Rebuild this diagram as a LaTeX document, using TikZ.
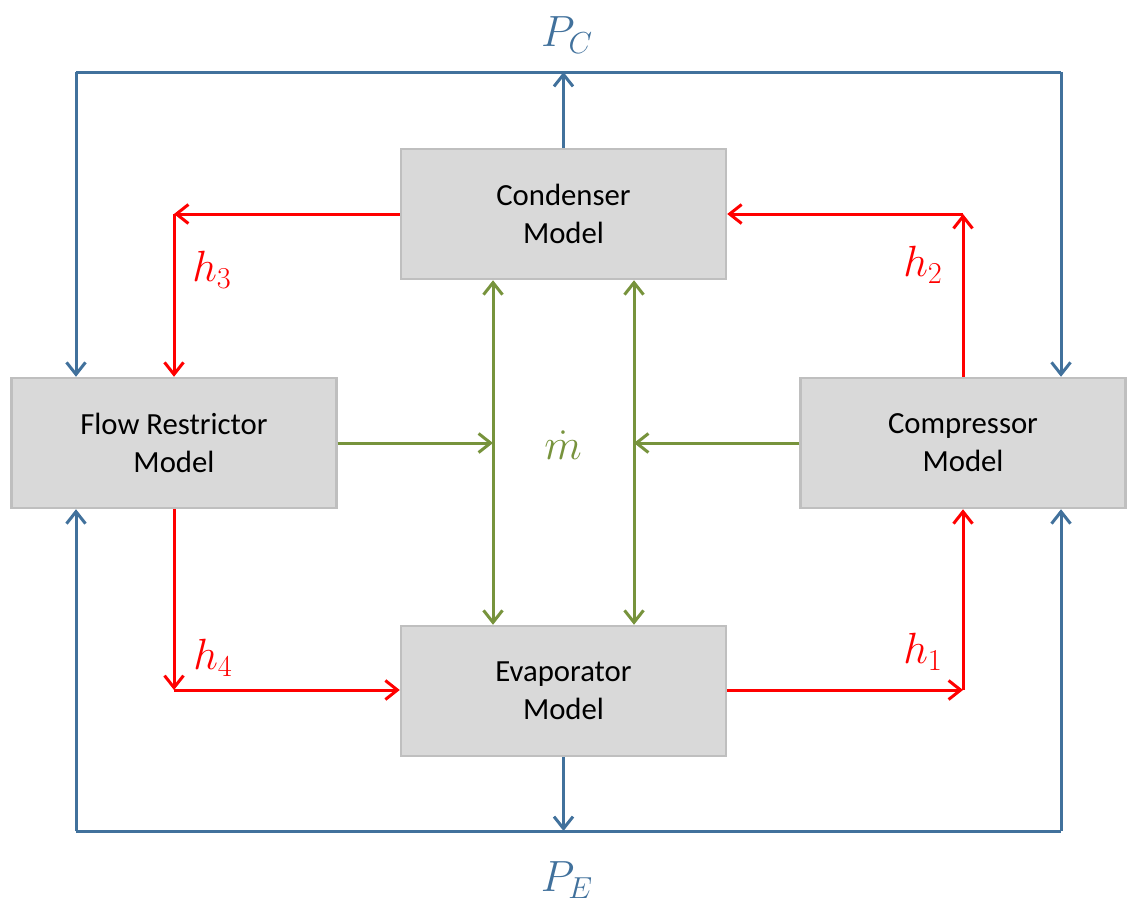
\documentclass[tikz,border=0pt]{standalone}
\usepackage{fontspec}
\setmainfont{Carlito}
\usetikzlibrary{arrows.meta}
\definecolor{pblue}{RGB}{65,113,156}
\definecolor{pred}{RGB}{255,0,0}
\definecolor{pgreen}{RGB}{119,147,60}
\definecolor{boxfill}{RGB}{217,217,217}
\definecolor{boxline}{RGB}{191,191,191}
\begin{document}
\begin{tikzpicture}[x=0.02cm,y=-0.02cm,
  model/.style={draw=boxline,fill=boxfill,line width=0.05cm,minimum width=6.5cm,minimum height=2.6cm,align=center,inner sep=0pt,font=\fontsize{17.5}{21.5}\selectfont},
  tip/.style={-{Straight Barb[length=0.24cm,width=0.38cm]}},
  bline/.style={pblue,line width=0.06cm},
  rline/.style={pred,line width=0.06cm},
  gline/.style={pgreen,line width=0.06cm},
  mlab/.style={font=\fontsize{27}{30}\selectfont,inner sep=0pt}]
\useasboundingbox (0,0) rectangle (1128,903);
\node[model] (cond) at (563.5,214) {Condenser\\Model};
\node[model] (flow) at (174,443) {Flow Restrictor\\Model};
\node[model] (comp) at (963,443) {Compressor\\Model};
\node[model] (evap) at (563.5,691) {Evaporator\\Model};
% corner coordinates
\coordinate (tl) at (76,72);
\coordinate (tr) at (1061,72);
\coordinate (bl) at (76,831);
\coordinate (br) at (1061,831);
\coordinate (tc) at (563.5,72);
\coordinate (bc) at (563.5,831);
\coordinate (r3) at (174,214);
\coordinate (r2) at (963,214);
\coordinate (r4) at (174,690);
\coordinate (r1) at (963,690);
\coordinate (gl) at (493,443);
\coordinate (gr) at (634,443);
% blue
\draw[bline] (tl) -- (tr);
\draw[bline] (bl) -- (br);
\draw[bline,tip] (cond.north) -- (tc);
\draw[bline,tip] (evap.south) -- (bc);
\draw[bline,tip] (tl) -- (tl |- flow.north);
\draw[bline,tip] (tr) -- (tr |- comp.north);
\draw[bline,tip] (bl) -- (bl |- flow.south);
\draw[bline,tip] (br) -- (br |- comp.south);
% red
\draw[rline,tip] (cond.west |- r3) -- (r3);
\draw[rline,tip] (r3) -- (r3 |- flow.north);
\draw[rline,tip] (comp.north) -- (r2);
\draw[rline,tip] (r2) -- (cond.east |- r2);
\draw[rline,tip] (flow.south) -- (r4);
\draw[rline,tip] (r4) -- (evap.west |- r4);
\draw[rline,tip] (evap.east |- r1) -- (r1);
\draw[rline,tip] (r1) -- (comp.south);
% green
\draw[gline,{Straight Barb[length=0.24cm,width=0.38cm]}-{Straight Barb[length=0.24cm,width=0.38cm]}] (gl |- cond.south) -- (gl |- evap.north);
\draw[gline,{Straight Barb[length=0.24cm,width=0.38cm]}-{Straight Barb[length=0.24cm,width=0.38cm]}] (gr |- cond.south) -- (gr |- evap.north);
\draw[gline,tip] (flow.east) -- (gl);
\draw[gline,tip] (comp.west) -- (gr);
% labels
\node[mlab,text=pblue] (pc) at (567,35) {$P_C$};
\node[mlab,text=pblue] (pe) at (567,880) {$P_E$};
\node[mlab,text=pred] (h3) at (212,270) {$h_3$};
\node[mlab,text=pred] (h2) at (923,265) {$h_2$};
\node[mlab,text=pred] (h4) at (213,658) {$h_4$};
\node[mlab,text=pred] (h1) at (923,652) {$h_1$};
\node[mlab,text=pgreen] (md) at (563,445) {$\dot m$};
\end{tikzpicture}
\end{document}
